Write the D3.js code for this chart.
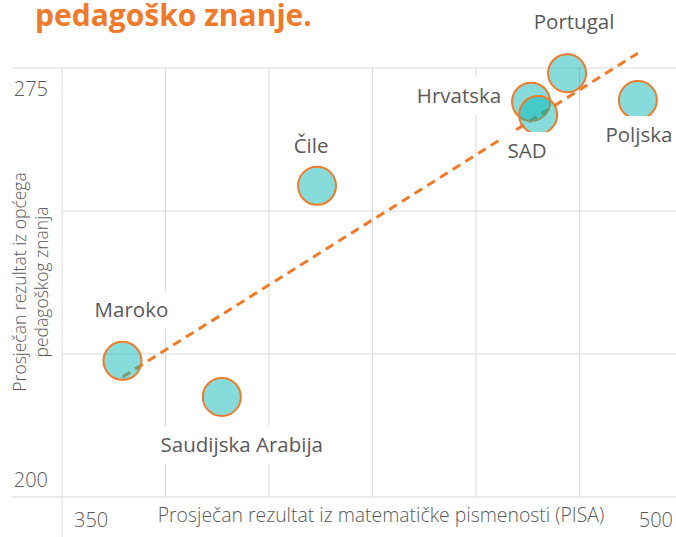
<!DOCTYPE html>
<html>
<head>
<meta charset="utf-8">
<script src="https://cdn.jsdelivr.net/npm/d3@7"></script>
<style>
  html, body { margin: 0; padding: 0; background: #fff; overflow: hidden; }
  text { font-family: "Open Sans", sans-serif; }
  .light { font-weight: 300; }
</style>
</head>
<body>
<div id="chart"></div>
<script>
// data
const countries = ["Maroko", "Saudijska Arabija", "Čile", "Hrvatska", "SAD", "Portugal", "Poljska"];
const mathScores = [364.6, 388.6, 411.6, 463.3, 465.0, 472.0, 489.1];
const pedagogyScores = [223.8, 217.5, 254.4, 269.1, 266.8, 274.1, 269.4];
const xTicks = [350, 375, 400, 425, 450, 475, 500];
const yTicks = [200, 225, 250, 275];

// label placement (offset of label centre / baseline from the bubble)
const labelOffsets = {
  "Maroko": [9, -44],
  "Saudijska Arabija": [20, 55],
  "Čile": [-6, -33],
  "Hrvatska": [-72, 1],
  "SAD": [-11, 43],
  "Portugal": [7, -44],
  "Poljska": [1, 42]
};

const width = 676;
const height = 537;
const orange = "#f07a2a";
const grey = "#595959";
const gridColor = "#d9d9d9";

const svg = d3
  .select("#chart")
  .append("svg")
  .attr("width", width)
  .attr("height", height);

const x = d3.scaleLinear().domain([350, 500]).range([62, 683]);
const y = d3.scaleLinear().domain([200, 275]).range([497, 68]);

// title (only the last line is in view)
svg
  .append("text")
  .attr("x", 35)
  .attr("y", 26)
  .attr("fill", orange)
  .attr("font-size", "30px")
  .attr("font-weight", "bold")
  .text("pedagoško znanje.");

// gridlines
svg
  .selectAll(".hgrid")
  .data(yTicks)
  .enter()
  .append("line")
  .attr("class", "hgrid")
  .attr("x1", (d) => (d === 200 || d === 275 ? 12 : x(350)))
  .attr("x2", width)
  .attr("y1", (d) => y(d))
  .attr("y2", (d) => y(d))
  .attr("stroke", gridColor)
  .attr("stroke-width", 1);

svg
  .selectAll(".vgrid")
  .data(xTicks)
  .enter()
  .append("line")
  .attr("class", "vgrid")
  .attr("x1", (d) => x(d))
  .attr("x2", (d) => x(d))
  .attr("y1", y(275))
  .attr("y2", (d) => (d === 350 || d === 500 ? height : y(200)))
  .attr("stroke", gridColor)
  .attr("stroke-width", 1);

// linear trend
const n = mathScores.length;
const mx = d3.mean(mathScores);
const my = d3.mean(pedagogyScores);
let sxy = 0;
let sxx = 0;
for (let i = 0; i < n; i++) {
  sxy += (mathScores[i] - mx) * (pedagogyScores[i] - my);
  sxx += (mathScores[i] - mx) * (mathScores[i] - mx);
}
const slope = sxy / sxx;
const x0 = d3.min(mathScores);
const x1 = d3.max(mathScores);

svg
  .append("line")
  .attr("x1", x(x0))
  .attr("y1", y(my + slope * (x0 - mx)))
  .attr("x2", x(x1))
  .attr("y2", y(my + slope * (x1 - mx)))
  .attr("stroke", orange)
  .attr("stroke-width", 3)
  .attr("stroke-dasharray", "9,6");

// bubbles
const points = countries.map((c, i) => ({
  name: c,
  math: mathScores[i],
  ped: pedagogyScores[i]
}));

svg
  .selectAll(".bubble")
  .data(points)
  .enter()
  .append("circle")
  .attr("class", "bubble")
  .attr("cx", (d) => x(d.math))
  .attr("cy", (d) => y(d.ped))
  .attr("r", 19)
  .attr("fill", "rgb(0,180,178)")
  .attr("fill-opacity", 0.47)
  .attr("stroke", orange)
  .attr("stroke-width", 2);

// data labels with white boxes
const labels = svg
  .selectAll(".label")
  .data(points)
  .enter()
  .append("g")
  .attr("class", "label")
  .attr("transform", function (d) {
    const off = labelOffsets[d.name];
    return "translate(" + (x(d.math) + off[0]) + "," + (y(d.ped) + off[1]) + ")";
  });

labels.append("rect").attr("fill", "#fff");

labels
  .append("text")
  .attr("text-anchor", "middle")
  .attr("font-size", "20.5px")
  .attr("fill", grey)
  .text((d) => d.name);

labels.each(function () {
  const g = d3.select(this);
  const w = g.select("text").node().getComputedTextLength();
  g.select("rect")
    .attr("x", -w / 2 - 6)
    .attr("y", -26)
    .attr("width", w + 12)
    .attr("height", 38);
});

// tick labels (only the ends are shown)
function tickLabel(tx, ty, anchor, value) {
  svg
    .append("text")
    .attr("class", "light")
    .attr("x", tx)
    .attr("y", ty)
    .attr("text-anchor", anchor)
    .attr("font-size", "20px")
    .attr("fill", grey)
    .text(value);
}

tickLabel(48, 96, "end", yTicks[yTicks.length - 1]);
tickLabel(48, 487, "end", yTicks[0]);
tickLabel(x(350) + 12, 527, "start", xTicks[0]);
tickLabel(673, 527, "end", xTicks[xTicks.length - 1]);

// axis titles
svg
  .append("text")
  .attr("class", "light")
  .attr("x", 381)
  .attr("y", 522)
  .attr("text-anchor", "middle")
  .attr("font-size", "19.4px")
  .attr("fill", grey)
  .text("Prosječan rezultat iz matematičke pismenosti (PISA)");

const yTitle = svg
  .append("text")
  .attr("class", "light")
  .attr("transform", "translate(26," + 282 + ") rotate(-90)")
  .attr("text-anchor", "middle")
  .attr("font-size", "17.5px")
  .attr("fill", grey);

yTitle.append("tspan").attr("x", 0).attr("y", 0).text("Prosječan rezultat iz općega");
yTitle.append("tspan").attr("x", 0).attr("y", 22).text("pedagoškog znanja");
</script>
</body>
</html>
